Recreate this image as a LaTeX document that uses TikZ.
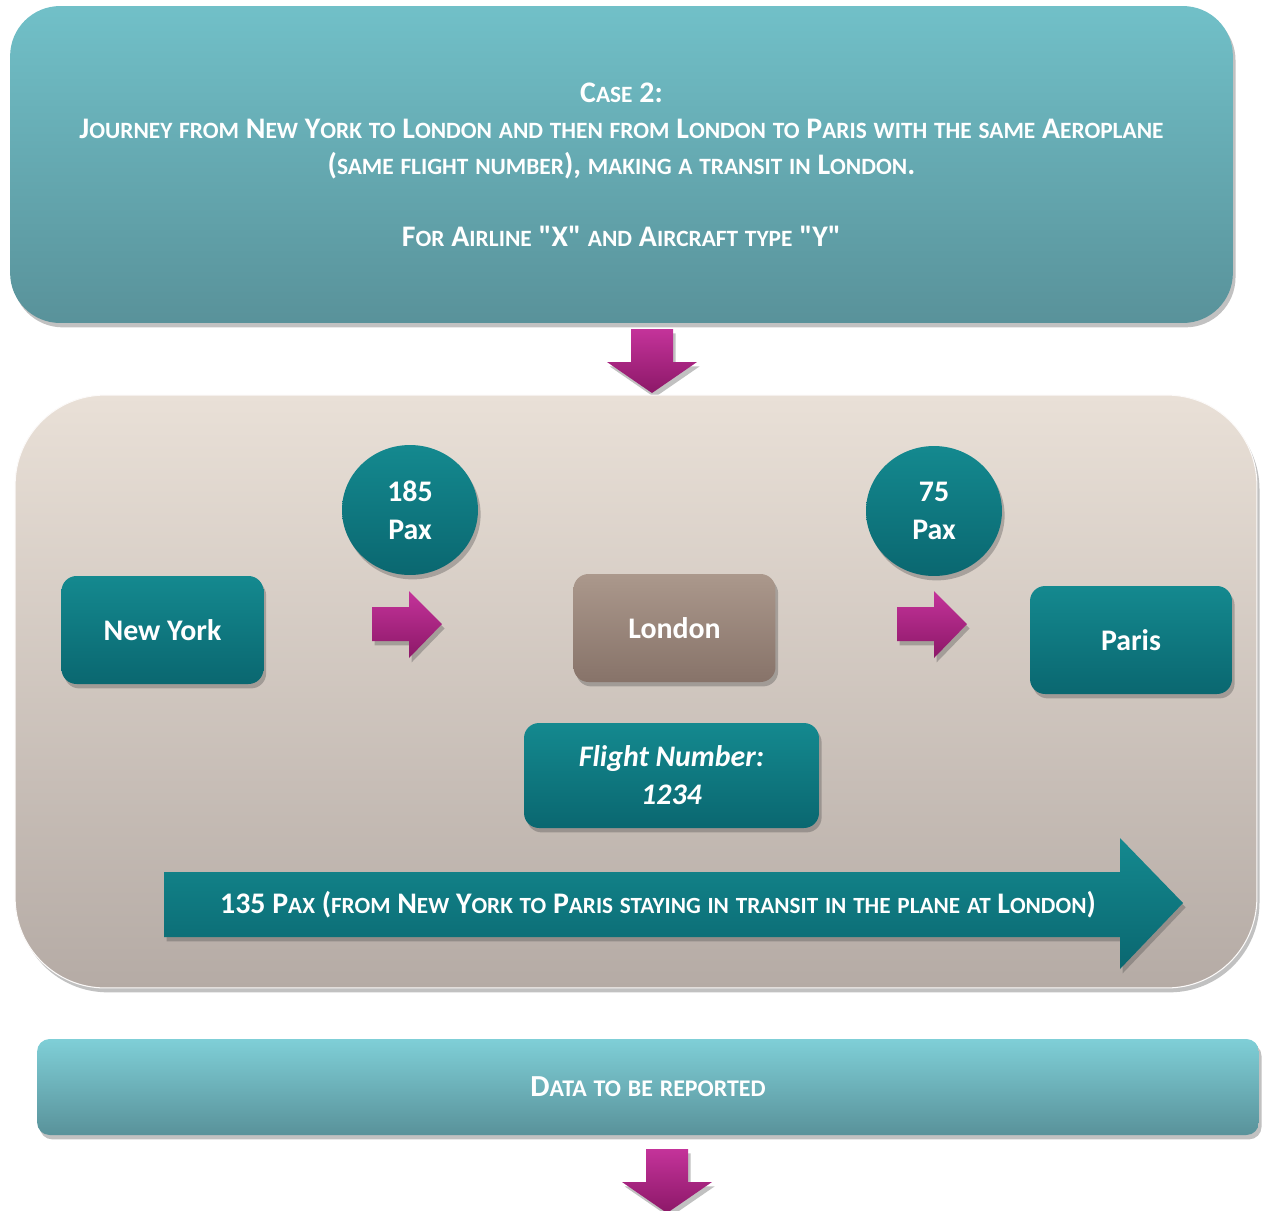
\documentclass[tikz,border=0pt]{standalone}
\usepackage{fontspec}
\setmainfont{Carlito}
\usetikzlibrary{shadows,shapes.geometric}

\definecolor{seatop}{HTML}{71C0C8}
\definecolor{seabot}{HTML}{59929A}
\definecolor{deeptop}{HTML}{14898F}
\definecolor{deepbot}{HTML}{0A6770}
\definecolor{sandtop}{HTML}{E9E0D7}
\definecolor{sandbot}{HTML}{B5ABA5}
\definecolor{claytop}{HTML}{AB988C}
\definecolor{claybot}{HTML}{877369}
\definecolor{plumtop}{HTML}{C4339A}
\definecolor{plumbot}{HTML}{8C1868}
\definecolor{skytop}{HTML}{7FCFD7}
\definecolor{skybot}{HTML}{59929A}

% small capitals drawn by hand (Carlito has none)
\newcommand{\scsize}{13.3}
\ExplSyntaxOn
\NewDocumentCommand{\fakesc}{m}{
  \seq_set_split:Nnn \l_tmpa_seq {~} {#1}
  \seq_map_indexed_inline:Nn \l_tmpa_seq {
    \int_compare:nNnT {##1} > {1} {~}
    \tl_map_inline:nn {##2} {
      \str_if_in:nnTF {abcdefghijklmnopqrstuvwxyz} {####1}
        { {\fontsize{\scsize}{0pt}\selectfont \text_uppercase:n {####1}} }
        { ####1 }
    }
  }
}
\ExplSyntaxOff

\newcommand{\headtext}{\fontsize{17}{20.5}\selectfont\bfseries}
\newcommand{\citytext}{\fontsize{17}{21.5}\selectfont\bfseries}

\tikzset{
  softshadow/.style={drop shadow={shadow xshift=1.5pt, shadow yshift=-2.5pt, opacity=0.35, fill=black!70}},
  titlebox/.style={rounded corners=1cm, top color=seatop, bottom color=seabot, softshadow,
    text=white, font=\headtext, align=center},
  routebox/.style={rounded corners=1.8cm, top color=sandtop, bottom color=sandbot, softshadow,
    draw=white!85!sandtop, line width=0.6pt},
  citybox/.style={rounded corners=0.3cm, top color=deeptop, bottom color=deepbot, softshadow,
    text=white, font=\citytext, align=center, minimum width=4.04cm, minimum height=2.16cm},
  hubbox/.style={citybox, top color=claytop, bottom color=claybot},
  paxdisc/.style={ellipse, top color=deeptop, bottom color=deepbot, softshadow,
    text=white, font=\citytext, align=center, minimum width=2.72cm, minimum height=2.6cm},
  plumfill/.style={top color=plumtop, bottom color=plumbot, softshadow},
  deepfill/.style={top color=deeptop, bottom color=deepbot, softshadow},
  plumright/.pic={\path[plumfill] (0,-17) -- (37,-17) -- (37,-33) -- (70,0) -- (37,34) -- (37,17) -- (0,17) -- cycle;},
  plumdown/.pic={\path[plumfill] (-21,-33) -- (21,-33) -- (21,0) -- (45,0) -- (0,31) -- (-45,0) -- (-21,0) -- cycle;}
}

\begin{document}
\begin{tikzpicture}[x=0.02cm, y=-0.02cm]
		%%%%% START %%%%%
		\useasboundingbox (0,0) rectangle (1262,1211);
		
		% heading
		\node[titlebox, minimum width=24.46cm, minimum height=6.34cm] (case) at (621.5,164.5)
			{\fakesc{Case 2:}\\
			 \fakesc{Journey from New York to London and then from London to Paris with the same Aeroplane}\\
			 \fakesc{(same flight number), making a transit in London.}\\[20.5pt]
			 \fakesc{For Airline \textquotedbl X\textquotedbl{} and Aircraft type \textquotedbl Y\textquotedbl}};
		\pic at (652,362) {plumdown};
		
		% route panel
		\node[routebox, minimum width=24.84cm, minimum height=11.86cm] (route) at (636,691.5) {};
		
		\node[citybox] (newyork) at (162.5,630) {New York};
		\node[hubbox] (london) at (674.5,628) {London};
		\node[citybox] (paris) at (1131,640) {Paris};
		
		\node[paxdisc] (firstleg) at (410,510) {185\\Pax};
		\node[paxdisc] (secondleg) at (934,511) {75\\Pax};
		\pic at (372,624) {plumright};
		\pic at (897,624) {plumright};
		
		\node[citybox, minimum width=5.9cm, minimum height=2.1cm, font=\citytext\itshape] (flight) at (671.5,775.5)
			{Flight Number:\\1234};
		
		\path[deepfill] (164,872) -- (1120,872) -- (1120,838) -- (1183,903) -- (1120,969) -- (1120,937) -- (164,937) -- cycle;
		\node[text=white, font=\citytext] (through) at (658,905)
			{\renewcommand{\scsize}{13.2}\fakesc{135 Pax (from New York to Paris staying in transit in the plane at London)}};
		
		% report
		\node[titlebox, rounded corners=0.25cm, top color=skytop, bottom color=skybot,
			minimum width=24.44cm, minimum height=1.92cm, font=\fontsize{17.4}{21}\selectfont\bfseries] (report) at (648,1087)
			{\renewcommand{\scsize}{13.6}\fakesc{Data to be reported}};
		\pic at (667,1182) {plumdown};
		%%%%% END %%%%%
\end{tikzpicture}
\end{document}
